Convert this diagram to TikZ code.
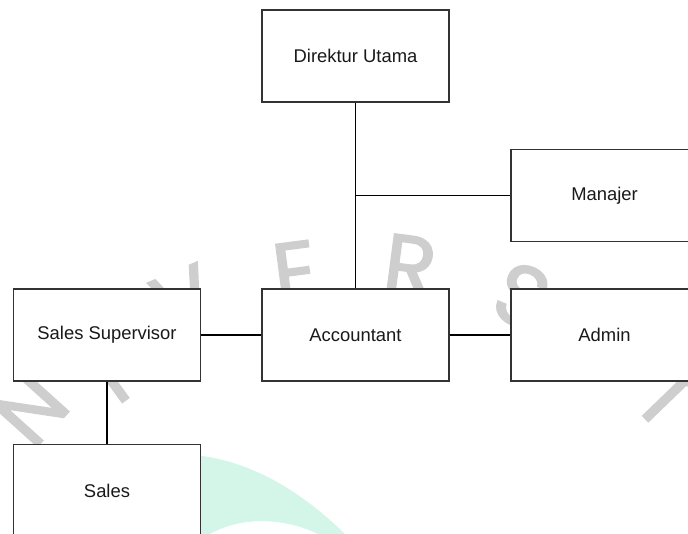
\documentclass[tikz,border=0pt]{standalone}
\usepackage{fontspec}
\setmainfont{Liberation Sans}
\newfontfamily\wmfont{Poppins}[FakeBold=2]
\definecolor{wmgray}{RGB}{206,206,206}
\definecolor{wmmint}{RGB}{211,246,233}
\definecolor{boxline}{RGB}{51,51,51}
\tikzset{
  jabatan/.style={draw=boxline, line width=1pt, fill=white, inner sep=0pt,
    minimum width=140.25pt, minimum height=69pt, text=black!90,
    font=\fontsize{13.8}{16}\selectfont},
  garis/.style={line width=1pt},
  wmletter/.style={text=wmgray, inner sep=0pt, font=\wmfont\fontsize{64}{64}\selectfont},
}
\begin{document}
\begin{tikzpicture}[x=0.75pt,y=0.75pt,yscale=-1,xscale=1]
\useasboundingbox (0,0) rectangle (688,534);

%Watermark: logo
\fill[wmmint] (195,455) .. controls (260,462) and (310,500) .. (345,534) -- (318,534) .. controls (290,520) and (245,514) .. (210,534) -- (195,534) -- cycle;
%Watermark: letters
\foreach \ch/\px/\py/\ang [count=\k] in {U/-34/503/63, N/31/409/48, I/108/376/36, V/184/300/23, E/295/272/7.5, R/410/266/-7.5, S/522/296/-22.5, I/597/339/-34, T/667/398/-46}
  \node[wmletter, rotate=\ang] (wm\k) at (\px,\py) {\ch};

%Boxes
\node[jabatan] (dirut) at (355.5,56) {Direktur Utama};
\node[jabatan] (manajer) at (604.5,195.5) {Manajer};
\node[jabatan] (spv) at (107,335) {Sales Supervisor};
\node[jabatan] (acc) at (355.5,335) {Accountant};
\node[jabatan] (admin) at (604.5,335) {Admin};
\node[jabatan] (sales) at (107,490.5) {Sales};

%Lines
\coordinate (cabang) at (dirut.south |- manajer.west);
\draw[garis] (dirut) -- (acc);
\draw[garis] (cabang) -- (manajer.west);
\draw[garis] (spv) -- (acc);
\draw[garis] (acc) -- (admin);
\draw[garis] (spv) -- (sales);

\end{tikzpicture}
\end{document}
